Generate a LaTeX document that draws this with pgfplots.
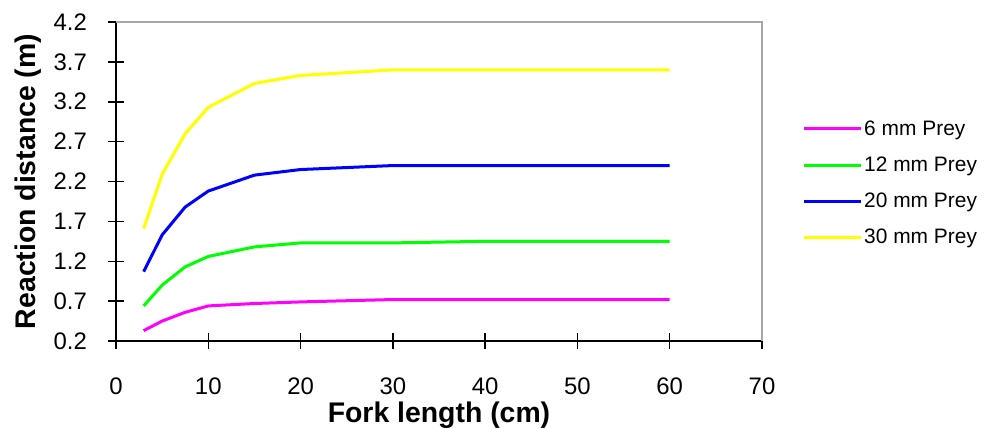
\documentclass[border=0pt]{standalone}
\usepackage{fontspec}
\setmainfont{Liberation Sans}
\usepackage{pgfplots}
\pgfplotsset{compat=1.18}
\definecolor{cmag}{RGB}{255,0,255}
\definecolor{cgreen}{RGB}{0,255,0}
\definecolor{cblue}{RGB}{0,0,255}
\definecolor{cyellow}{RGB}{255,255,0}
\begin{document}
\begin{tikzpicture}
\useasboundingbox (0,0) rectangle (985bp,428bp);
\begin{axis}[
  at={(116bp,87bp)}, anchor=south west,
  width=646bp, height=319bp, scale only axis,
  xmin=0, xmax=70, ymin=0.2, ymax=4.2,
  xtick={0,10,...,70},
  ytick={0.2,0.7,1.2,1.7,2.2,2.7,3.2,3.7,4.2},
  tick align=center, major tick length=16bp,
  tick style={black, line width=1.5bp},
  axis x line*=bottom, axis y line*=left,
  axis line style={black, line width=1.8bp, -},
  /pgf/number format/assume math mode=true,
  yticklabel={\pgfmathprintnumber[fixed,precision=1,zerofill]{\tick}},
  ticklabel style={font=\fontsize{24}{28}\selectfont, inner sep=0pt},
  yticklabel style={anchor=east, xshift=-21bp},
  xticklabel style={anchor=north, yshift=-29bp},
  xlabel={Fork length (cm)}, ylabel={Reaction distance (m)},
  label style={font=\fontsize{28.5}{32}\selectfont\bfseries},
  xlabel style={at={(axis description cs:0.5,-0.257)}, anchor=base},
  ylabel style={at={(axis description cs:-0.136,0.5)}, anchor=center},
  legend style={at={(axis description cs:1.062,0.495)}, anchor=west, draw=none, fill=none,
    font=\fontsize{21}{24}\selectfont, row sep=16bp, inner sep=0pt},
  legend cell align=left,
  legend image code/.code={\draw[#1] (0bp,0bp) -- (57bp,0bp);},
  every axis plot/.append style={line width=3bp},
  clip=false,
]
\draw[gray!70, line width=1.5bp] (rel axis cs:0,1) -- (rel axis cs:1,1) -- (rel axis cs:1,0);
\addplot[cmag] coordinates {(3,0.33) (5,0.45) (7.5,0.56) (10,0.64) (15,0.67) (20,0.69) (30,0.72) (40,0.72) (50,0.72) (60,0.72)};
\addlegendentry{6 mm Prey}
\addplot[cgreen] coordinates {(3,0.64) (5,0.90) (7.5,1.13) (10,1.26) (15,1.38) (20,1.43) (30,1.43) (40,1.45) (50,1.45) (60,1.45)};
\addlegendentry{12 mm Prey}
\addplot[cblue] coordinates {(3,1.07) (5,1.53) (7.5,1.88) (10,2.08) (15,2.28) (20,2.35) (30,2.40) (40,2.40) (50,2.40) (60,2.40)};
\addlegendentry{20 mm Prey}
\addplot[cyellow] coordinates {(3,1.61) (5,2.29) (7.5,2.80) (10,3.13) (15,3.43) (20,3.53) (30,3.60) (40,3.60) (50,3.60) (60,3.60)};
\addlegendentry{30 mm Prey}
\end{axis}
\end{tikzpicture}
\end{document}
